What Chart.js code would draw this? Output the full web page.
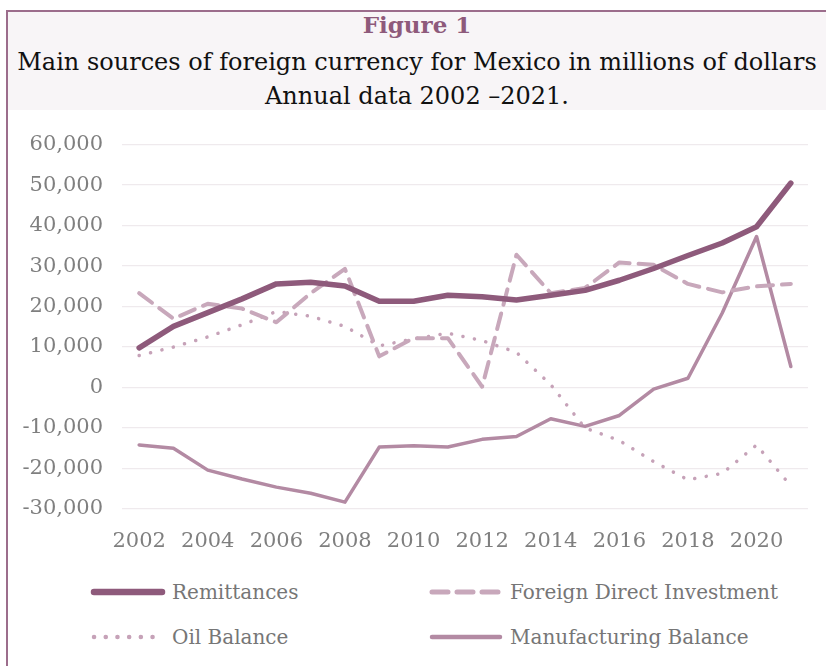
<!DOCTYPE html>
<html>
<head>
<meta charset="utf-8">
<script src="https://cdn.jsdelivr.net/npm/chart.js@4.4.1/dist/chart.umd.min.js"></script>
<style>
  body { margin: 0; background: #fff; width: 826px; height: 666px; overflow: hidden; position: relative; font-family: "DejaVu Serif", serif; }
  .frame { position: absolute; left: 6px; top: 10px; width: 900px; height: 700px; border-left: 2px solid #9c6d8c; border-top: 2px solid #9c6d8c; }
  .titlebox { position: absolute; left: 8px; top: 12px; width: 818px; height: 98px; background: #f8f5f7; text-align: center; }
  .fig { position: absolute; left: 0; right: 0; top: -1px; font-size: 23px; font-weight: bold; color: #8e5a7b; }
  .sub { position: absolute; left: 0; right: 0; font-size: 24px; color: #111; white-space: nowrap; }
  .chartbox { position: absolute; left: 0; top: 113px; width: 826px; height: 447px; }
  .legend { position: absolute; left: 0; top: 0; width: 826px; }
  .item { position: absolute; height: 30px; display: flex; align-items: center; font-size: 20px; color: #767676; white-space: nowrap; }
  .item canvas { margin-right: 6px; }
</style>
</head>
<body>
<div class="frame"></div>
<div class="titlebox">
  <div class="fig">Figure 1</div>
  <div class="sub" style="top:36px">Main sources of foreign currency for Mexico in millions of dollars</div>
  <div class="sub" style="top:70px">Annual data 2002 –2021.</div>
</div>
<div class="chartbox"><canvas id="chart" width="826" height="447"></canvas></div>
<div class="legend" id="legend"></div>
<script>
// years 2002-2021
const years = ["2002", "2003", "2004", "2005", "2006", "2007", "2008", "2009", "2010", "2011",
  "2012", "2013", "2014", "2015", "2016", "2017", "2018", "2019", "2020", "2021"];

// millions of dollars
const remittances = [9800, 15100, 18500, 21900, 25600, 26000, 25100, 21300, 21300, 22800,
  22400, 21600, 22800, 24000, 26500, 29400, 32600, 35700, 39700, 50500];
const foreignDirectInvestment = [23300, 17000, 20700, 19500, 16100, 23300, 29300, 7700, 12200, 12200,
  200, 32800, 23300, 24600, 30900, 30300, 25600, 23500, 25000, 25600];
const oilBalance = [7900, 10000, 12500, 15500, 18800, 17600, 15100, 10300, 12000, 13400,
  11600, 8700, 700, -10000, -13100, -18300, -22800, -21200, -14200, -24300];
const manufacturingBalance = [-14200, -15000, -20400, -22600, -24600, -26100, -28300, -14700, -14400, -14700,
  -12800, -12100, -7700, -9600, -6900, -400, 2300, 18400, 37300, 5200];

const tickFont = { family: "DejaVu Serif", size: 21 };
const tickColor = "#7f7f7f";

const datasets = [
  { label: "Remittances", data: remittances, borderColor: "#8e5a7b", borderWidth: 5.5, borderDash: [] },
  { label: "Foreign Direct Investment", data: foreignDirectInvestment, borderColor: "#c8a8bb", borderWidth: 4, borderDash: [16, 9] },
  { label: "Oil Balance", data: oilBalance, borderColor: "#c6a2b8", borderWidth: 3.5, borderDash: [0.1, 11.6] },
  { label: "Manufacturing Balance", data: manufacturingBalance, borderColor: "#b38aa3", borderWidth: 3.5, borderDash: [] },
].map((d) => Object.assign(d, {
  fill: false,
  tension: 0,
  pointRadius: 0,
  borderCapStyle: "round",
  borderJoinStyle: "round",
}));

const chart = new Chart(document.getElementById("chart"), {
  type: "line",
  data: { labels: years, datasets: datasets },
  options: {
    responsive: false,
    animation: false,
    devicePixelRatio: 1,
    // top space comes from the y tick labels (half line height + padding)
    layout: { padding: { top: 0, right: 18, left: 0, bottom: 0 } },
    plugins: { legend: { display: false }, tooltip: { enabled: false } },
    scales: {
      x: {
        offset: true,
        grid: { display: false, drawTicks: false },
        border: { display: false },
        ticks: {
          autoSkip: false,
          maxRotation: 0,
          padding: 20,
          font: tickFont,
          color: tickColor,
          callback: function (value, index) {
            return index % 2 === 0 ? this.getLabelForValue(value) : "";
          },
        },
        afterFit: (scale) => { scale.height = 51; },
      },
      y: {
        min: -30000,
        max: 60000,
        grid: { color: "#efeaed", lineWidth: 1.2, drawTicks: false },
        border: { display: false },
        ticks: {
          stepSize: 10000,
          padding: 19,
          font: tickFont,
          color: tickColor,
          callback: (v) => v.toLocaleString("en-US"),
        },
        afterFit: (scale) => { scale.width = 122; },
      },
    },
  },
});

// legend in two columns, line samples drawn with the dataset styles
const legendPos = [
  { x: 90, y: 577 },
  { x: 428, y: 577 },
  { x: 90, y: 622 },
  { x: 428, y: 622 },
];
const legend = document.getElementById("legend");
datasets.forEach((ds, i) => {
  const item = document.createElement("div");
  item.className = "item";
  item.style.left = legendPos[i].x + "px";
  item.style.top = legendPos[i].y + "px";
  const c = document.createElement("canvas");
  c.width = 76;
  c.height = 14;
  const ctx = c.getContext("2d");
  ctx.strokeStyle = ds.borderColor;
  ctx.lineWidth = ds.borderWidth + 1;
  ctx.lineCap = "round";
  ctx.setLineDash(ds.borderDash);
  ctx.beginPath();
  ctx.moveTo(4, 7);
  ctx.lineTo(72, 7);
  ctx.stroke();
  item.appendChild(c);
  const t = document.createElement("span");
  t.textContent = ds.label;
  item.appendChild(t);
  legend.appendChild(item);
});
</script>
</body>
</html>
